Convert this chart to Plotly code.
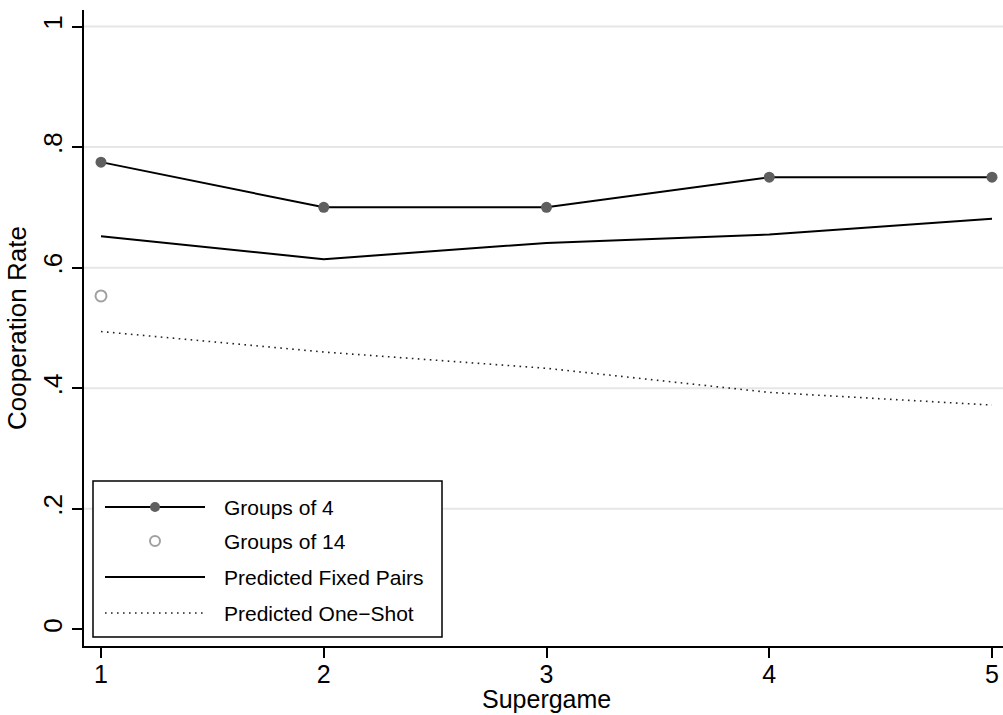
import plotly.graph_objects as go

# Cooperation rates by supergame
supergame = [1, 2, 3, 4, 5]
groups_of_4 = [0.775, 0.70, 0.70, 0.75, 0.75]
groups_of_14_x = [1]
groups_of_14 = [0.553]
predicted_fixed_pairs = [0.652, 0.614, 0.641, 0.655, 0.681]
predicted_one_shot = [0.494, 0.460, 0.433, 0.393, 0.372]

y_ticks = [0, 0.2, 0.4, 0.6, 0.8, 1.0]
y_tick_text = ["0", ".2", ".4", ".6", ".8", "1"]
grid_values = [0.2, 0.4, 0.6, 0.8, 1.0]

W, H = 1003, 715
ML, MR, MT, MB = 84, 0, 10, 69
PW, PH = W - ML - MR, H - MT - MB

FONT = "Liberation Sans, Arial, sans-serif"
MARKER_DARK = "#5f5f5f"
MARKER_LIGHT = "#a0a0a0"
DOT_STYLE = dict(color="#222222", width=1.6, dash="1.6px,4.4px")


def px_x(p):
    return (p - ML) / PW


def px_y(p):
    return (H - MB - p) / PH


fig = go.Figure()

fig.add_trace(go.Scatter(
    x=supergame, y=groups_of_4, mode="lines+markers", name="Groups of 4",
    line=dict(color="black", width=2),
    marker=dict(color=MARKER_DARK, size=11, line=dict(width=0)),
))
fig.add_trace(go.Scatter(
    x=groups_of_14_x, y=groups_of_14, mode="markers", name="Groups of 14",
    marker=dict(symbol="circle-open", color=MARKER_LIGHT, size=11,
                line=dict(width=2, color=MARKER_LIGHT)),
))
fig.add_trace(go.Scatter(
    x=supergame, y=predicted_fixed_pairs, mode="lines",
    name="Predicted Fixed Pairs", line=dict(color="black", width=2),
))
fig.add_trace(go.Scatter(
    x=supergame, y=predicted_one_shot, mode="lines",
    name="Predicted One\u2212Shot", line=DOT_STYLE,
))

shapes = []
# horizontal grid lines
for g in grid_values:
    shapes.append(dict(type="line", xref="paper", yref="y", x0=0, x1=1,
                       y0=g, y1=g, line=dict(color="#e6e6e6", width=2),
                       layer="below"))

# legend box
lx0, lx1 = px_x(93), px_x(442)
ly0, ly1 = px_y(637), px_y(481)
shapes.append(dict(type="rect", xref="paper", yref="paper",
                   x0=lx0, x1=lx1, y0=ly0, y1=ly1,
                   fillcolor="white", line=dict(color="black", width=1.5),
                   layer="above"))

row_y = [px_y(507), px_y(541), px_y(577), px_y(613)]
sym_x0, sym_x1 = px_x(105), px_x(205)
sym_c = px_x(155)
text_x = px_x(222)
labels = [t.name for t in fig.data]

# legend symbols
shapes.append(dict(type="line", xref="paper", yref="paper", x0=sym_x0,
                   x1=sym_x1, y0=row_y[0], y1=row_y[0],
                   line=dict(color="black", width=2), layer="above"))
shapes.append(dict(type="circle", xref="paper", yref="paper",
                   xsizemode="pixel", ysizemode="pixel",
                   xanchor=sym_c, yanchor=row_y[0], x0=-5, x1=5, y0=-5, y1=5,
                   fillcolor=MARKER_DARK, line=dict(width=0), layer="above"))
shapes.append(dict(type="circle", xref="paper", yref="paper",
                   xsizemode="pixel", ysizemode="pixel",
                   xanchor=sym_c, yanchor=row_y[1], x0=-5, x1=5, y0=-5, y1=5,
                   fillcolor="white", line=dict(color=MARKER_LIGHT, width=2),
                   layer="above"))
shapes.append(dict(type="line", xref="paper", yref="paper", x0=sym_x0,
                   x1=sym_x1, y0=row_y[2], y1=row_y[2],
                   line=dict(color="black", width=2), layer="above"))
shapes.append(dict(type="line", xref="paper", yref="paper", x0=sym_x0,
                   x1=sym_x1, y0=row_y[3], y1=row_y[3],
                   line=DOT_STYLE, layer="above"))

annotations = [
    dict(text=lab, xref="paper", yref="paper", x=text_x, y=yy,
         xanchor="left", yanchor="middle", showarrow=False,
         font=dict(family=FONT, size=21, color="black"))
    for lab, yy in zip(labels, row_y)
]
# x-axis title, sitting on the bottom edge under the tick labels
annotations.append(dict(
    text="Supergame", xref="paper", yref="paper", x=px_x(546), y=px_y(715),
    xanchor="center", yanchor="bottom", showarrow=False,
    font=dict(family=FONT, size=25, color="black"),
))

fig.update_layout(
    width=W, height=H,
    margin=dict(l=ML, r=MR, t=MT, b=MB, pad=0),
    paper_bgcolor="white", plot_bgcolor="white",
    showlegend=False,
    font=dict(family=FONT, size=26, color="black"),
    shapes=shapes, annotations=annotations,
    xaxis=dict(
        range=[0.9237, 5.0494], tickvals=supergame,
        ticktext=[str(s) for s in supergame],
        showgrid=False, zeroline=False, showline=True, linecolor="black",
        linewidth=1.5, ticks="outside", ticklen=10, tickwidth=1.5,
        tickcolor="black", tickfont=dict(size=25), ticklabelstandoff=-5,
    ),
    yaxis=dict(
        range=[-0.0277, 1.0274], tickvals=y_ticks, ticktext=y_tick_text,
        tickangle=-90,
        showgrid=False, zeroline=False, showline=True, linecolor="black",
        linewidth=1.5, ticks="outside", ticklen=10, tickwidth=1.5,
        tickcolor="black", tickfont=dict(size=26),
        title=dict(text="Cooperation Rate", font=dict(size=26), standoff=4),
    ),
)

fig.write_html("out.html")
